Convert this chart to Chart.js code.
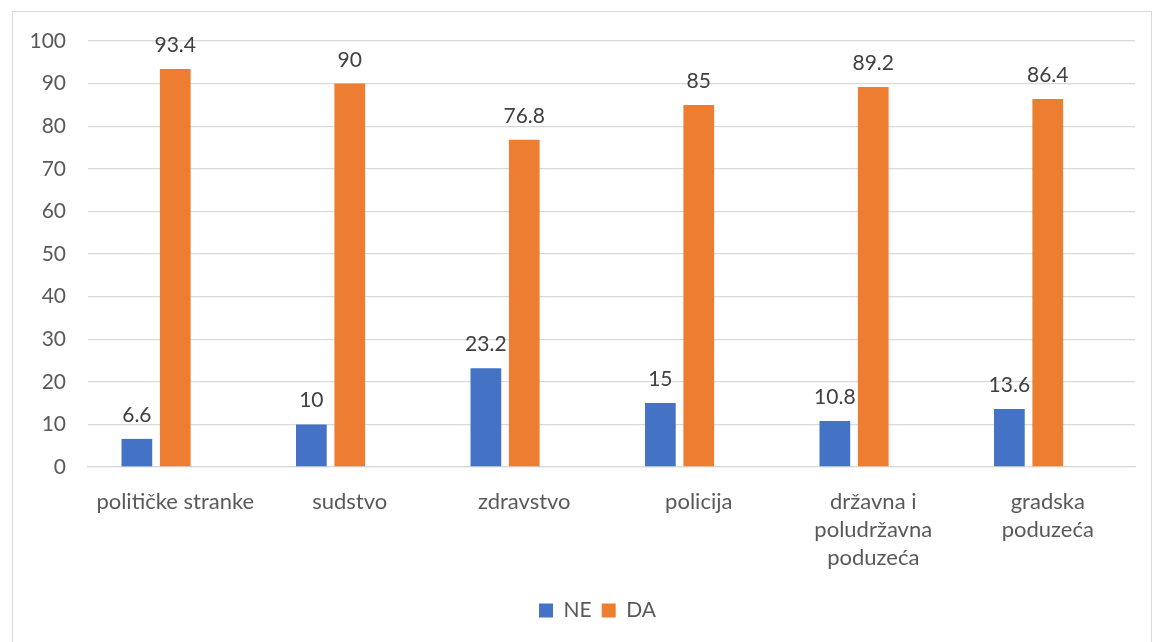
<!DOCTYPE html>
<html>
<head>
<meta charset="utf-8">
<script src="https://cdn.jsdelivr.net/npm/chart.js@4"></script>
<style>
    html, body { margin: 0; padding: 0; background: #fff; }
    #wrap { position: relative; width: 1154px; height: 642px; overflow: hidden; }
    #frame { position: absolute; left: 12px; top: 11px; width: 1138px; height: 640px; border: 1px solid #d9d9d9; }
    #chartBox { position: absolute; left: 0; top: 0; width: 1154px; height: 642px; }
</style>
</head>
<body>
<div id="wrap">
    <div id="frame"></div>
    <div id="chartBox"><canvas id="barChart"></canvas></div>
</div>
<script>
// kategorije i vrijednosti (postoci)
const categories = [
    'političke stranke',
    'sudstvo',
    'zdravstvo',
    'policija',
    ['državna i', 'poludržavna', 'poduzeća'],
    ['gradska', 'poduzeća']
];
const neValues = [6.6, 10, 23.2, 15, 10.8, 13.6];
const daValues = [93.4, 90, 76.8, 85, 89.2, 86.4];
// prazna treca serija (u originalu zauzima mjesto desno od DA)
const emptyValues = [null, null, null, null, null, null];
const yTicks = [0, 10, 20, 30, 40, 50, 60, 70, 80, 90, 100];

const FONT = 'Lato, "Open Sans", sans-serif';

// ispis vrijednosti iznad stupaca
const valueLabels = {
    id: 'valueLabels',
    afterDatasetsDraw(chart) {
        const ctx = chart.ctx;
        ctx.save();
        ctx.font = '21px ' + FONT;
        ctx.fillStyle = '#404040';
        ctx.textAlign = 'center';
        ctx.textBaseline = 'alphabetic';
        chart.data.datasets.forEach((ds, i) => {
            if (!ds.showValues) return;
            const meta = chart.getDatasetMeta(i);
            meta.data.forEach((bar, j) => {
                const v = ds.data[j];
                if (v === null) return;
                ctx.fillText(String(v), bar.x, bar.y - 17);
            });
        });
        ctx.restore();
    }
};

// legenda je u originalu centrirana u okviru koji ide izvan slike
const shiftLegend = {
    id: 'shiftLegend',
    afterLayout(chart) {
        chart.legend.left += 30;
        chart.legend.right += 30;
    }
};

new Chart(document.getElementById('barChart'), {
    type: 'bar',
    data: {
        labels: categories,
        datasets: [
            { label: 'NE', data: neValues, backgroundColor: '#4472C4', showValues: true },
            { label: 'DA', data: daValues, backgroundColor: '#ED7D31', showValues: true },
            { label: '', data: emptyValues, backgroundColor: 'rgba(0,0,0,0)' }
        ]
    },
    options: {
        responsive: true,
        maintainAspectRatio: false,
        animation: false,
        layout: { padding: { top: 41, right: 19, bottom: 11, left: 0 } },
        datasets: { bar: { categoryPercentage: 0.66, barPercentage: 0.8 } },
        scales: {
            x: {
                grid: { display: false, drawTicks: false },
                border: { display: true, color: '#d9d9d9', width: 1.3 },
                ticks: { color: '#595959', font: { family: FONT, size: 22, lineHeight: 1.27 }, padding: 21, maxRotation: 0, autoSkip: false },
                afterFit(scale) { scale.height = 123; }
            },
            y: {
                min: 0,
                max: 100,
                afterBuildTicks(scale) { scale.ticks = yTicks.map(v => ({ value: v })); },
                grid: { color: '#d9d9d9', lineWidth: 1.3, drawTicks: false },
                border: { display: false },
                ticks: { color: '#595959', font: { family: FONT, size: 21 }, padding: 22 },
                afterFit(scale) { scale.width = 88; }
            }
        },
        plugins: {
            tooltip: { enabled: false },
            legend: {
                position: 'bottom',
                labels: {
                    color: '#595959',
                    font: { family: FONT, size: 21 },
                    boxWidth: 14,
                    boxHeight: 14,
                    padding: 10,
                    filter: item => item.text !== ''
                }
            }
        }
    },
    plugins: [valueLabels, shiftLegend]
});
</script>
</body>
</html>
